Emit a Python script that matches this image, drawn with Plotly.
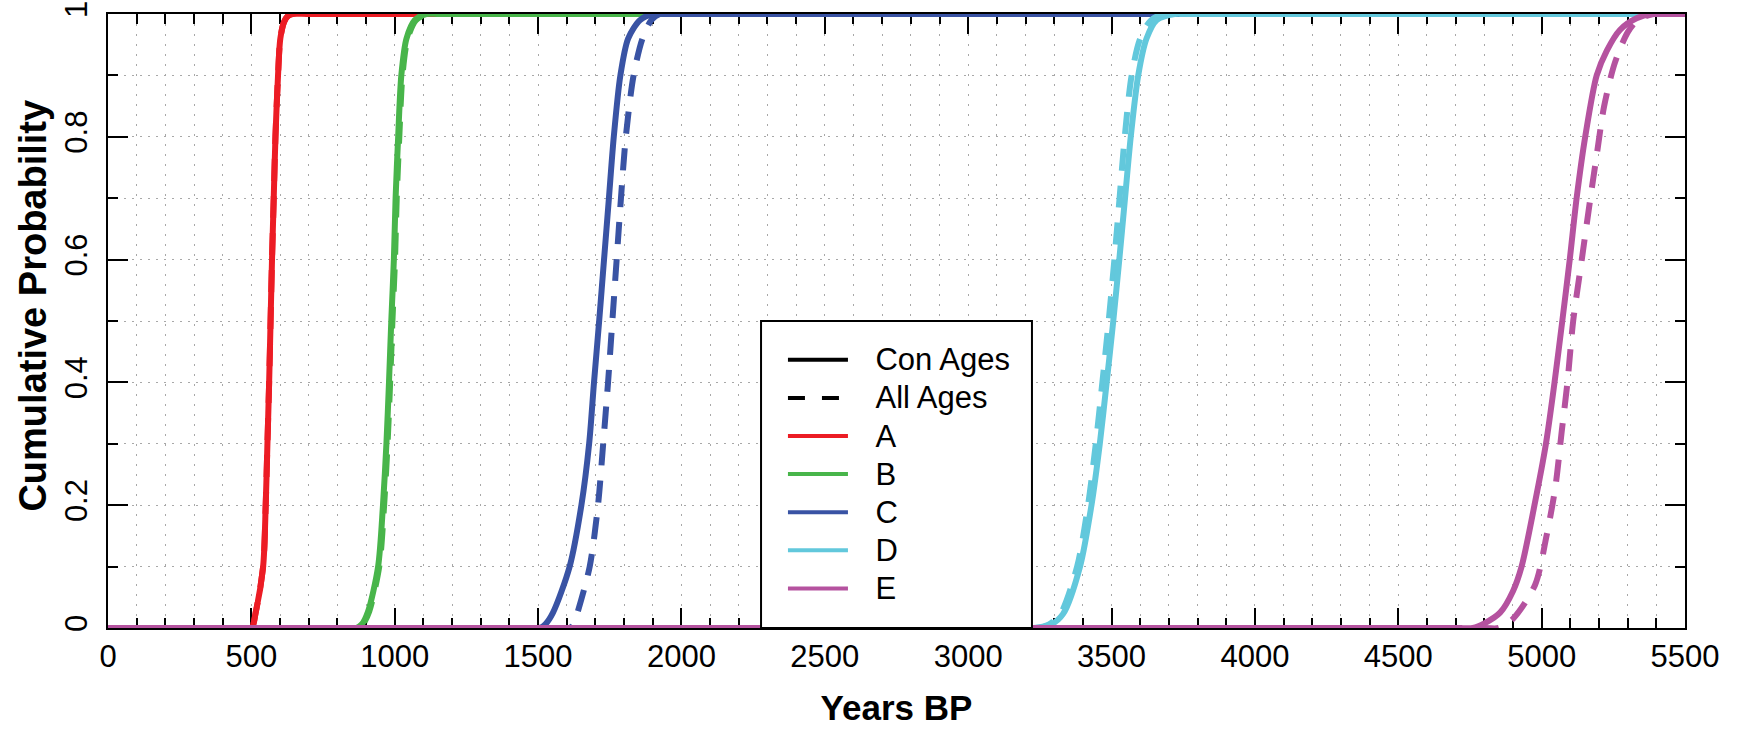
import plotly.graph_objects as go

# ---- data (Years BP vs cumulative probability) ----
A_con_x = [0, 450, 500, 515, 541, 550, 556, 562, 567, 572, 578, 584, 593, 601, 614, 628, 645, 700, 5500]
A_con_y = [0, 0, 0, 0.025, 0.1, 0.2, 0.3, 0.4, 0.5, 0.6, 0.7, 0.8, 0.9, 0.96, 0.987, 0.997, 1, 1, 1]
A_all_x = [0, 450, 500, 515, 541, 550, 556, 562, 567, 572, 578, 584, 593, 601, 614, 628, 645, 700, 5500]
A_all_y = [0, 0, 0, 0.025, 0.1, 0.2, 0.3, 0.4, 0.5, 0.6, 0.7, 0.8, 0.9, 0.96, 0.987, 0.997, 1, 1, 1]

B_con_x = [0, 820, 866, 885, 907, 942, 959, 971, 980, 988, 997, 1003, 1012, 1023, 1041, 1070, 1110, 1160, 5500]
B_con_y = [0, 0, 0, 0.006, 0.027, 0.1, 0.2, 0.3, 0.4, 0.5, 0.6, 0.7, 0.8, 0.9, 0.96, 0.99, 1, 1, 1]
B_all_x = [0, 820, 870, 889, 911, 946, 963, 975, 984, 992, 1001, 1007, 1016, 1027, 1045, 1074, 1114, 1160, 5500]
B_all_y = [0, 0, 0, 0.006, 0.027, 0.1, 0.2, 0.3, 0.4, 0.5, 0.6, 0.7, 0.8, 0.9, 0.96, 0.99, 1, 1, 1]

C_con_x = [0, 1450, 1505, 1525, 1552, 1610, 1651, 1678, 1695, 1713, 1730, 1747, 1764, 1787, 1814, 1855, 1901, 1950, 5500]
C_con_y = [0, 0, 0, 0.006, 0.025, 0.1, 0.2, 0.3, 0.4, 0.5, 0.6, 0.7, 0.8, 0.9, 0.96, 0.99, 1, 1, 1]
C_all_x = [0, 1560, 1612, 1625, 1640, 1680, 1709, 1727, 1744, 1759, 1774, 1789, 1806, 1833, 1864, 1895, 1925, 1970, 5500]
C_all_y = [0, 0, 0, 0.008, 0.029, 0.1, 0.2, 0.3, 0.4, 0.5, 0.6, 0.7, 0.8, 0.9, 0.96, 0.99, 1, 1, 1]

D_con_x = [0, 3180, 3235, 3290, 3331, 3390, 3430, 3459, 3483, 3506, 3527, 3547, 3567, 3593, 3622, 3657, 3720, 3770, 5500]
D_con_y = [0, 0, 0, 0.006, 0.023, 0.1, 0.2, 0.3, 0.4, 0.5, 0.6, 0.7, 0.8, 0.9, 0.96, 0.99, 1, 1, 1]
D_all_x = [0, 3175, 3228, 3282, 3322, 3380, 3418, 3445, 3468, 3490, 3510, 3528, 3546, 3570, 3600, 3638, 3685, 3740, 5500]
D_all_y = [0, 0, 0, 0.006, 0.023, 0.1, 0.2, 0.3, 0.4, 0.5, 0.6, 0.7, 0.8, 0.9, 0.96, 0.99, 1, 1, 1]

E_con_x = [0, 4700, 4760, 4802, 4855, 4900, 4930, 4975, 5015, 5045, 5072, 5098, 5122, 5152, 5192, 5227, 5273, 5331, 5385, 5430, 5500]
E_con_y = [0, 0, 0, 0.008, 0.025, 0.06, 0.1, 0.2, 0.3, 0.4, 0.5, 0.6, 0.7, 0.8, 0.9, 0.94, 0.974, 0.993, 1, 1, 1]
E_all_x = [0, 4800, 4850, 4900, 4977, 5017, 5048, 5070, 5090, 5110, 5140, 5170, 5192, 5218, 5255, 5300, 5335, 5390, 5440, 5500]
E_all_y = [0, 0, 0, 0.015, 0.07, 0.15, 0.23, 0.32, 0.4, 0.5, 0.6, 0.7, 0.77, 0.85, 0.92, 0.97, 0.99, 1, 1, 1]

groups = ["A", "B", "C", "D", "E"]
colors = ["#EC1C24", "#48B54A", "#3953A4", "#62C8DC", "#B5529F"]
series = {
    "A": (A_con_x, A_con_y, A_all_x, A_all_y),
    "B": (B_con_x, B_con_y, B_all_x, B_all_y),
    "C": (C_con_x, C_con_y, C_all_x, C_all_y),
    "D": (D_con_x, D_con_y, D_all_x, D_all_y),
    "E": (E_con_x, E_con_y, E_all_x, E_all_y),
}
legend_names = ["Con Ages", "All Ages"] + groups

x_ticks = list(range(0, 5501, 500))
y_ticks = [0, 0.2, 0.4, 0.6, 0.8, 1]
y_tick_text = ["0", "0.2", "0.4", "0.6", "0.8", "1"]

FONT = "Liberation Sans, Arial, sans-serif"
DASH = "22px,15px"
LW = 6
PAD = "\u00a0\u00a0\u00a0"


def leg_label(s):
    return PAD + "<span style='font-size:31px'>" + s + "</span>"


fig = go.Figure()
for g, c in zip(groups, colors):
    cx, cy, ax_, ay = series[g]
    fig.add_trace(go.Scatter(x=ax_, y=ay, mode="lines", showlegend=False, cliponaxis=False,
                             line=dict(color=c, width=LW, dash=DASH, shape="spline", smoothing=0.8),
                             hoverinfo="skip"))
    fig.add_trace(go.Scatter(x=cx, y=cy, mode="lines", showlegend=False, cliponaxis=False,
                             line=dict(color=c, width=LW, shape="spline", smoothing=0.8),
                             hoverinfo="skip"))

# legend entries
fig.add_trace(go.Scatter(x=[None], y=[None], mode="lines", name=leg_label(legend_names[0]),
                         line=dict(color="black", width=4)))
fig.add_trace(go.Scatter(x=[None], y=[None], mode="lines", name=leg_label(legend_names[1]),
                         line=dict(color="black", width=4, dash="17px,17px")))
for g, c in zip(groups, colors):
    fig.add_trace(go.Scatter(x=[None], y=[None], mode="lines", name=leg_label(g),
                             line=dict(color=c, width=4)))

grid = dict(gridcolor="#a8a8a8", gridwidth=1)
fig.update_xaxes(
    range=[0, 5500], tickvals=x_ticks, ticks="inside", ticklen=20, tickwidth=2,
    tickcolor="black", showline=True, linecolor="black", linewidth=2, mirror="ticks",
    showgrid=True, griddash="2px,8px", **grid, layer="below traces", automargin=False,
    minor=dict(dtick=100, ticks="inside", ticklen=10, tickwidth=2, tickcolor="black",
               showgrid=True, griddash="2px,8px", **grid),
    tickfont=dict(family=FONT, size=31, color="black"), ticklabelstandoff=0,
    title=dict(text="<b>Years BP</b>", font=dict(family=FONT, size=35, color="black"), standoff=22),
    zeroline=False,
)
fig.update_yaxes(
    range=[0, 1], tickvals=y_ticks, ticktext=y_tick_text, ticks="inside", ticklen=20, tickwidth=2,
    tickcolor="black", showline=True, linecolor="black", linewidth=2, mirror="ticks",
    showgrid=True, griddash="2px,6px", **grid, layer="below traces", automargin=False,
    minor=dict(dtick=0.1, ticks="inside", ticklen=10, tickwidth=2, tickcolor="black",
               showgrid=True, griddash="2px,6px", **grid),
    tickangle=-90, tickfont=dict(family=FONT, size=31, color="black"), ticklabelstandoff=7,
    zeroline=False,
)
fig.add_annotation(text="<b>Cumulative Probability</b>", xref="paper", yref="paper",
                   x=-0.0476, y=0.525, xanchor="center", yanchor="middle", textangle=-90,
                   showarrow=False, font=dict(family=FONT, size=38, color="black"))
# legend frame
fig.add_shape(type="rect", xref="paper", yref="paper", x0=0.4141, x1=0.5859, y0=0, y1=0.5,
              fillcolor="white", line=dict(color="black", width=2), layer="above")
fig.update_layout(
    width=1743, height=730,
    margin=dict(l=108, r=58, t=14, b=102, autoexpand=False),
    paper_bgcolor="white", plot_bgcolor="white",
    font=dict(family=FONT, color="black"),
    legend=dict(x=0.428, xanchor="left", y=0.476, yanchor="top",
                borderwidth=0, bgcolor="rgba(0,0,0,0)",
                font=dict(family=FONT, size=27, color="black"),
                itemwidth=60, tracegroupgap=0),
)
fig.write_html("out.html")
